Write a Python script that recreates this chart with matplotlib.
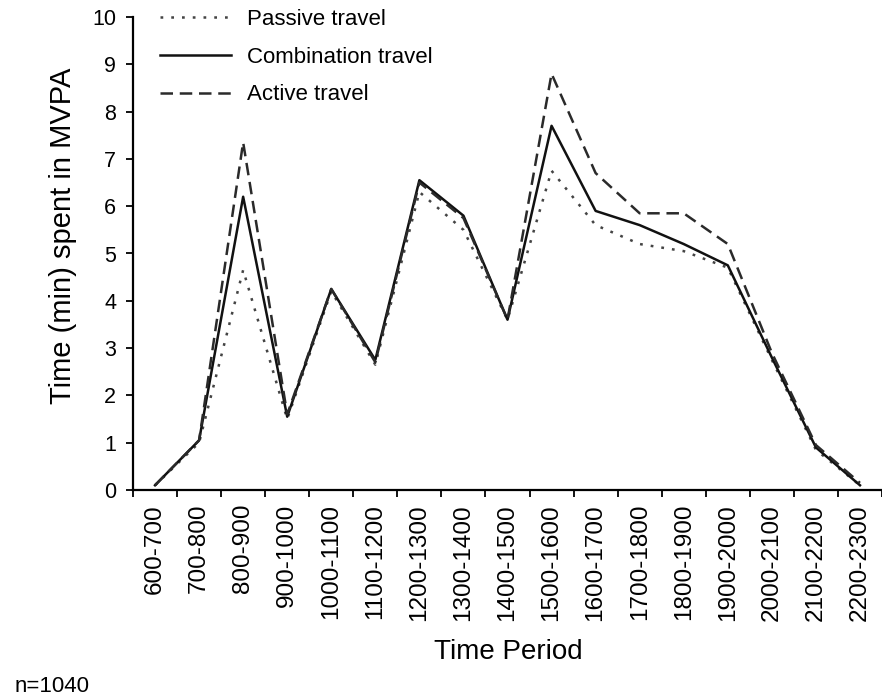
import matplotlib.pyplot as plt
import numpy as np

plt.rcParams["font.family"] = ["Liberation Sans", "DejaVu Sans"]

periods = ["600-700", "700-800", "800-900", "900-1000", "1000-1100", "1100-1200",
           "1200-1300", "1300-1400", "1400-1500", "1500-1600", "1600-1700",
           "1700-1800", "1800-1900", "1900-2000", "2000-2100", "2100-2200",
           "2200-2300"]
passive = [0.1, 1.0, 4.65, 1.5, 4.2, 2.65, 6.3, 5.5, 3.6, 6.75, 5.6,
           5.2, 5.05, 4.7, 2.75, 0.85, 0.1]
combination = [0.1, 1.05, 6.2, 1.55, 4.25, 2.75, 6.55, 5.8, 3.6, 7.7, 5.9,
               5.6, 5.2, 4.75, 2.8, 0.9, 0.1]
active = [0.1, 1.05, 7.35, 1.6, 4.25, 2.7, 6.5, 5.75, 3.6, 8.8, 6.7,
          5.85, 5.85, 5.2, 2.9, 0.95, 0.15]

fig = plt.figure(figsize=(8.82, 7.0), dpi=100)
ax = fig.add_axes([133 / 882, 210 / 700, 749 / 882, 473 / 700])

x = np.arange(len(periods))
ax.plot(x, passive, color="#444444", lw=1.8, linestyle=(0, (1.1, 3.2)), label="Passive travel")
ax.plot(x, combination, color="#111111", lw=1.8, linestyle="-", label="Combination travel")
ax.plot(x, active, color="#2a2a2a", lw=1.8, linestyle=(0, (5, 2.7)), label="Active travel")

ax.set_xlim(-0.5, -0.5 + 749 / 44.6)
ax.set_ylim(0, 10)

# ticks between categories, labels at centres
ax.set_xticks(np.arange(len(periods) + 1) - 0.5)
ax.set_xticklabels([])
ax.set_xticks(x, minor=True)
ax.set_xticklabels(periods, minor=True, rotation=90, fontsize=17.5, va="top")
ax.tick_params(axis="x", which="major", direction="out", length=5, width=1.3)
ax.tick_params(axis="x", which="minor", length=0, pad=10)
ax.set_yticks(range(0, 11))
ax.tick_params(axis="y", direction="out", length=5, width=1.3, labelsize=15.5, pad=7)

for side in ["top", "right"]:
    ax.spines[side].set_visible(False)
for side in ["left", "bottom"]:
    ax.spines[side].set_linewidth(1.6)

ax.set_xlabel("Time Period", fontsize=20, va="center")
ax.xaxis.set_label_coords((508 - 133) / 749, (490 - 652) / 473)
ax.set_ylabel("Time (min) spent in MVPA", fontsize=21, va="center")
ax.yaxis.set_label_coords((63 - 133) / 749, (490 - 236) / 473)

fig.legend(loc="upper left", bbox_to_anchor=(160 / 882, 1 - 9 / 700), frameon=False,
           fontsize=16, handlelength=3.2, handletextpad=0.7, labelspacing=0.75,
           borderpad=0, borderaxespad=0)

fig.text(15 / 882, 1 - 687 / 700, "n=1040", fontsize=16, ha="left", va="center")

fig.savefig("out.png", dpi=100)
